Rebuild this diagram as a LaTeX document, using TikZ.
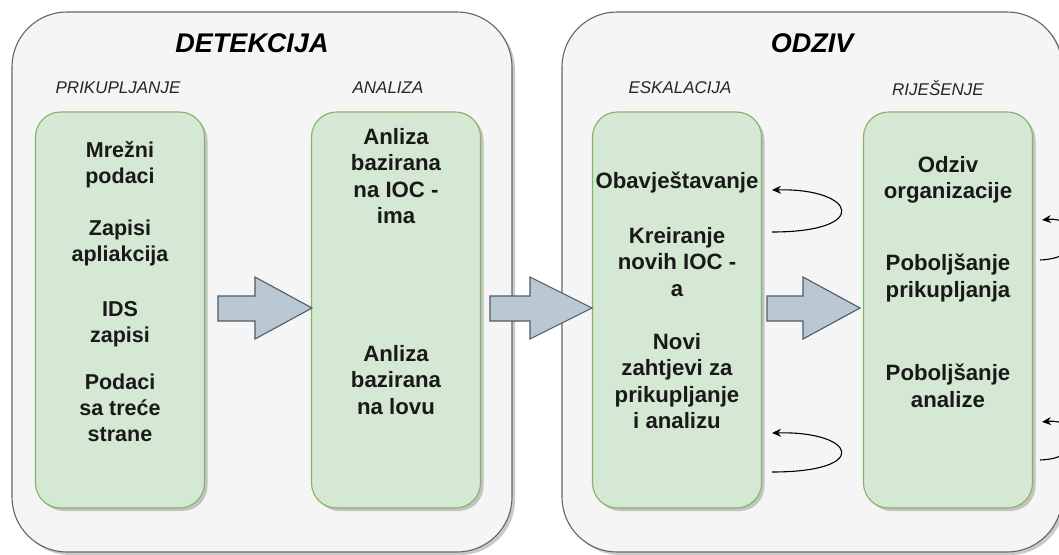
\documentclass[tikz,border=0pt]{standalone}
\usepackage{fontspec}
\setmainfont{Liberation Sans}
\usetikzlibrary{arrows.meta,shadows}
\definecolor{contfill}{HTML}{F5F5F5}
\definecolor{contdraw}{HTML}{666666}
\definecolor{grfill}{HTML}{D5E8D4}
\definecolor{grdraw}{HTML}{82B366}
\definecolor{arfill}{HTML}{BAC8D3}
\definecolor{ardraw}{HTML}{4F5B66}
\tikzset{
  container/.style={draw=contdraw, fill=contfill, line width=1.1pt, rounded corners=55pt,
    minimum width=500pt, minimum height=540pt, inner sep=0pt,
    drop shadow={shadow xshift=3pt, shadow yshift=-3pt, opacity=0.35, fill=black!60}},
  greenbox/.style={draw=grdraw, fill=grfill, line width=1.1pt, rounded corners=25pt,
    minimum width=169pt, minimum height=396pt, inner sep=0pt,
    drop shadow={shadow xshift=3pt, shadow yshift=-3pt, opacity=0.35, fill=black!60}},
  maintitle/.style={font=\fontsize{27}{30}\selectfont\bfseries\itshape, text=black},
  subtitle/.style={font=\fontsize{17}{19}\selectfont\itshape, text=black!85},
  boxtext/.style={font=\fontsize{21.5}{26}\selectfont\bfseries, align=center, text=black!90, inner sep=0pt},
  boxtextw/.style={boxtext, font=\fontsize{22.2}{26.5}\selectfont\bfseries},
  bigarrow/.style={draw=ardraw, fill=arfill, line width=1.1pt, line join=miter},
  loopline/.style={draw=black, line width=1.1pt, -{Stealth[length=9pt,width=8pt]}}
}
\begin{document}
\begin{tikzpicture}[x=1pt,y=-1pt]
\useasboundingbox (0,0) rectangle (1059,554);
\fill[white] (0,0) rectangle (1059,554);
\clip (0,0) rectangle (1059,554);

% containers
\node[container] (det) at (262,282) {};
\node[container] (odz) at (812,282) {};
\node[maintitle] (detT) at (252,43) {DETEKCIJA};
\node[maintitle] (odzT) at (812,43) {ODZIV};

% subtitles
\node[subtitle] (s1) at (118,88) {PRIKUPLJANJE};
\node[subtitle] (s2) at (388,88) {ANALIZA};
\node[subtitle] (s3) at (680,88) {ESKALACIJA};
\node[subtitle] (s4) at (938,88) {RIJEŠENJE};

% green boxes
\node[greenbox] (b1) at (120,310) {};
\node[greenbox] (b2) at (396,310) {};
\node[greenbox] (b3) at (677,310) {};
\node[greenbox] (b4) at (948,310) {};

% box texts
\node[boxtext] (t11) at (120,165) {Mrežni\\podaci};
\node[boxtext] (t12) at (120,243) {Zapisi\\apliakcija};
\node[boxtext] (t13) at (120,324) {IDS\\zapisi};
\node[boxtext] (t14) at (120,408) {Podaci\\sa treće\\strane};

\node[boxtextw] (t21) at (396,176) {Anliza\\bazirana\\na IOC -\\ima};
\node[boxtextw] (t22) at (396,380) {Anliza\\bazirana\\na lovu};

\node[boxtextw] (t31) at (677,183) {Obavještavanje};
\node[boxtextw] (t32) at (677,262) {Kreiranje\\novih IOC -\\a};
\node[boxtextw] (t33) at (677,381) {Novi\\zahtjevi za\\prikupljanje\\i analizu};

\node[boxtextw] (t41) at (948,180) {Odziv\\organizacije};
\node[boxtextw] (t42) at (948,278) {Poboljšanje\\prikupljanja};
\node[boxtextw] (t43) at (948,386) {Poboljšanje\\analize};

% big arrows between boxes
\path[bigarrow] (218,296) -- (255,296) -- (255,277) -- (312,308) -- (255,339) -- (255,321) -- (218,321) -- cycle;
\path[bigarrow] (490,296) -- (530,296) -- (530,277) -- (592,308) -- (530,339) -- (530,321) -- (490,321) -- cycle;
\path[bigarrow] (767,296) -- (803,296) -- (803,277) -- (860,308) -- (803,339) -- (803,321) -- (767,321) -- cycle;

% self loops
\coordinate (l1s) at (772,232);
\coordinate (l1e) at (772,190);
\coordinate (l2s) at (772,472);
\coordinate (l2e) at (772,433);
\coordinate (l3s) at (1040,260);
\coordinate (l3e) at (1042,220);
\coordinate (l4s) at (1040,460);
\coordinate (l4e) at (1042,422);
\draw[loopline] (l1s) .. controls (872,232) and (856,188) .. (l1e);
\draw[loopline] (l2s) .. controls (872,472) and (856,431) .. (l2e);
\draw[loopline] (l3s) .. controls (1090,258) and (1080,216) .. (l3e);
\draw[loopline] (l4s) .. controls (1090,458) and (1080,418) .. (l4e);
\end{tikzpicture}
\end{document}
